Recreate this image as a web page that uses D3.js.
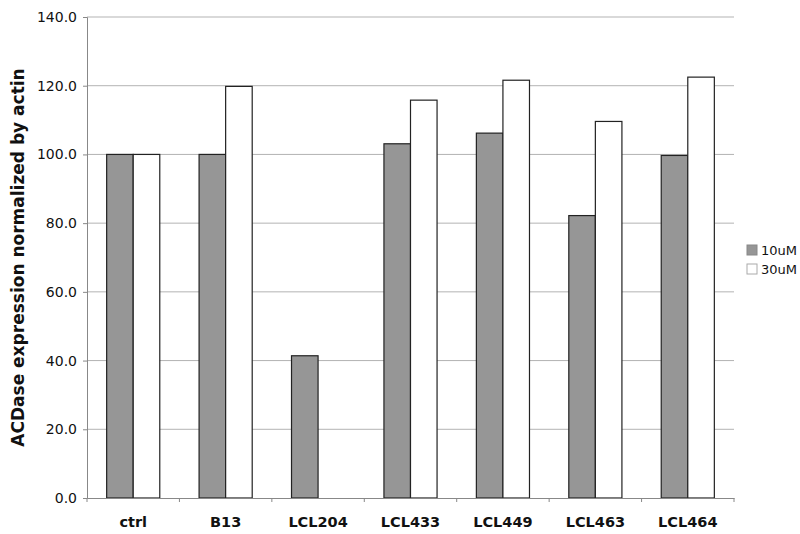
<!DOCTYPE html>
<html><head><meta charset="utf-8">
<script src="https://cdn.jsdelivr.net/npm/d3@7"></script>
<style>body{margin:0;background:#fff}</style>
</head><body>
<svg id="c" width="800" height="534"></svg>
<script>
const categories = ["ctrl","B13","LCL204","LCL433","LCL449","LCL463","LCL464"];
const series = ["10uM","30uM"];
const values10 = [100.0, 100.0, 41.4, 103.1, 106.2, 82.2, 99.7];
const values30 = [100.0, 119.8, 0, 115.8, 121.6, 109.6, 122.5];
const yTicks = [0,20,40,60,80,100,120,140];
const colors = ["#969696","#ffffff"];

const svg = d3.select("#c");
const m = {l:87, r:734, t:17, b:498};
const x = d3.scaleBand().domain(categories).range([m.l, m.r]).paddingInner(0).paddingOuter(0);
const xs = d3.scaleBand().domain(series).range([0, x.bandwidth()]).paddingInner(0).paddingOuter(0.74);
const y = d3.scaleLinear().domain([0,140]).range([m.b, m.t]);
const font = "'DejaVu Sans', Verdana, sans-serif";

// gridlines
svg.append("g").selectAll("line").data(yTicks.filter(d=>d>0)).join("line")
  .attr("x1", m.l).attr("x2", m.r).attr("y1", d=>y(d)).attr("y2", d=>y(d))
  .attr("stroke", "#b3b3b3").attr("stroke-width", 1);

// bars
const data = categories.map((c,i)=>({c, v:[values10[i], values30[i]]}));
const g = svg.append("g");
data.forEach(d=>{
  series.forEach((s,j)=>{
    const v = d.v[j];
    if (!v) return;
    g.append("rect")
      .attr("x", x(d.c)+xs(s)).attr("width", xs.bandwidth())
      .attr("y", y(v)).attr("height", y(0)-y(v))
      .attr("fill", colors[j]).attr("stroke", "#222").attr("stroke-width", 1.2);
  });
});

// y axis
const ya = d3.axisLeft(y).tickValues(yTicks).tickFormat(d3.format(".1f")).tickSize(4).tickPadding(6);
const yg = svg.append("g").attr("transform", `translate(${m.l},0)`).call(ya);
yg.select(".domain").attr("stroke", "#888");
yg.selectAll(".tick line").attr("stroke", "#888");
yg.selectAll("text").attr("font-family", font).attr("font-size", 14).attr("fill", "#111");

// x axis
const xa = d3.axisBottom(x).tickSize(0).tickPadding(19);
const xg = svg.append("g").attr("transform", `translate(0,${m.b})`).call(xa);
xg.select(".domain").attr("stroke", "#888");
xg.selectAll("text").attr("font-family", font).attr("font-size", 14.5).attr("font-weight", "bold").attr("fill", "#111");
// category boundary ticks
const bounds = categories.map(c=>x(c)).concat([m.r]);
svg.append("g").selectAll("line").data(bounds).join("line")
  .attr("x1", d=>d).attr("x2", d=>d).attr("y1", m.b).attr("y2", m.b+4)
  .attr("stroke", "#888");

// y title
svg.append("text").attr("transform", `translate(24,${(m.t+m.b)/2}) rotate(-90)`)
  .attr("text-anchor", "middle").attr("font-family", font).attr("font-size", 17).attr("font-weight", "bold")
  .attr("fill", "#111").text("ACDase expression normalized by actin");

// legend
const lg = svg.append("g").attr("transform", "translate(747,245)");
series.forEach((s,j)=>{
  lg.append("rect").attr("x",0).attr("y", j*19).attr("width",10).attr("height",10)
    .attr("fill", colors[j]).attr("stroke", j? "#aaa":"#888").attr("stroke-width",1);
  lg.append("text").attr("x", 14).attr("y", j*19+10).attr("font-family", font).attr("font-size", 13)
    .attr("fill", "#111").text(s);
});
</script>
</body></html>
